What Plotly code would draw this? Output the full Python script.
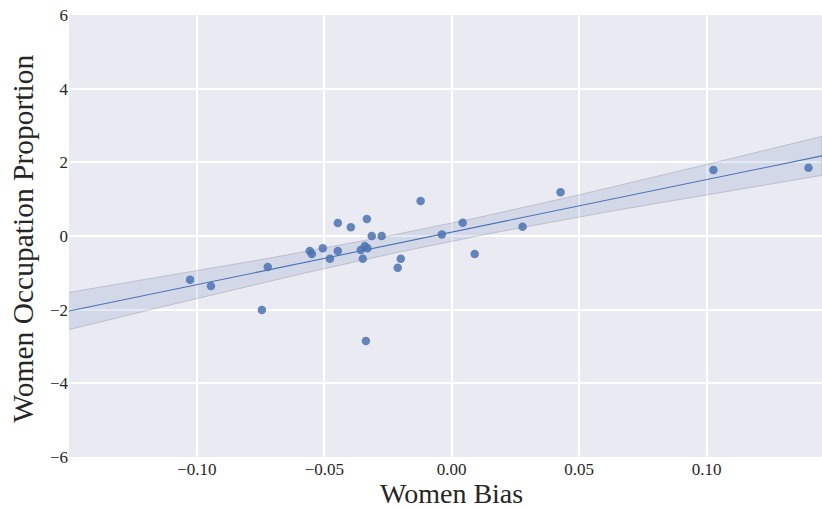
import numpy as np
import plotly.graph_objects as go

# Data
women_bias = [-0.1027, -0.0945, -0.0745, -0.0722, -0.0557, -0.0549, -0.0506, -0.0478,
              -0.0447, -0.0447, -0.0396, -0.0357, -0.0349, -0.0341, -0.0333, -0.0331,
              -0.0337, -0.0314, -0.0275, -0.0212, -0.0200, -0.0122, -0.0039, 0.0043,
              0.0090, 0.0278, 0.0427, 0.1027, 0.1400]
women_occupation = [-1.19, -1.36, -2.01, -0.84, -0.41, -0.49, -0.33, -0.62,
                    0.35, -0.41, 0.24, -0.38, -0.62, -0.27, 0.46, -0.33,
                    -2.85, 0.00, 0.00, -0.86, -0.62, 0.95, 0.04, 0.36,
                    -0.49, 0.25, 1.19, 1.79, 1.85]
x_range = [-0.1502, 0.1453]
y_range = [-6, 6]
x_ticks = [-0.10, -0.05, 0.00, 0.05, 0.10]
y_ticks = [-6, -4, -2, 0, 2, 4, 6]
x_title = "Women Bias"
y_title = "Women Occupation Proportion"

BLUE = "#4C72B0"
FONT = "Liberation Serif"

# OLS fit with robust (HC3) 95% confidence band for the mean
x = np.array(women_bias)
y = np.array(women_occupation)
n = len(x)
X = np.column_stack([np.ones(n), x])
XtX_inv = np.linalg.inv(X.T @ X)
beta = XtX_inv @ X.T @ y
resid = y - X @ beta
h = np.einsum("ij,jk,ik->i", X, XtX_inv, X)
meat = X.T @ (X * (resid ** 2 / (1 - h) ** 2)[:, None])
cov = XtX_inv @ meat @ XtX_inv

grid = np.linspace(x_range[0], x_range[1], 100)
G = np.column_stack([np.ones_like(grid), grid])
fit = G @ beta
se = np.sqrt(np.einsum("ij,jk,ik->i", G, cov, G))
upper = fit + 1.96 * se
lower = fit - 1.96 * se

fig = go.Figure()
fig.add_trace(go.Scatter(
    x=np.concatenate([grid, grid[::-1]]),
    y=np.concatenate([upper, lower[::-1]]),
    fill="toself", fillcolor="rgba(76,114,176,0.15)",
    line=dict(color="rgba(150,150,165,0.45)", width=1),
    mode="lines", hoverinfo="skip", showlegend=False))
fig.add_trace(go.Scatter(x=grid, y=fit, mode="lines",
                         line=dict(color=BLUE, width=1.1), showlegend=False))
fig.add_trace(go.Scatter(x=women_bias, y=women_occupation, mode="markers",
                         marker=dict(color=BLUE, size=8.5, opacity=0.85, line=dict(width=0)),
                         showlegend=False))

fig.update_layout(
    width=822, height=510,
    margin=dict(l=69, r=0, t=15, b=53, autoexpand=False),
    paper_bgcolor="white", plot_bgcolor="#EAEAF2",
    font=dict(family=FONT, color="#262626"),
    xaxis=dict(range=x_range, tickvals=x_ticks, tickformat=".2f", automargin=False,
               showgrid=True, gridcolor="white", gridwidth=1.6, zeroline=False,
               showline=False, ticks="", tickfont=dict(size=17, family=FONT)),
    yaxis=dict(range=y_range, tickvals=y_ticks, automargin=False,
               showgrid=True, gridcolor="white", gridwidth=1.6, zeroline=False,
               showline=False, ticks="", tickfont=dict(size=17, family=FONT)),
    annotations=[
        dict(text=x_title, xref="paper", yref="paper", x=0.5076, y=-0.0836,
             xanchor="center", yanchor="middle", showarrow=False, borderpad=0,
             font=dict(size=28, family=FONT, color="#262626")),
        dict(text=y_title, xref="paper", yref="paper", x=-0.061, y=0.494,
             xanchor="center", yanchor="middle", showarrow=False, textangle=-90,
             borderpad=0, font=dict(size=29.5, family=FONT, color="#262626")),
    ],
)

fig.write_html("out.html", config={"displayModeBar": False},
               post_script="document.body.style.margin='0';document.body.style.overflow='hidden';")
